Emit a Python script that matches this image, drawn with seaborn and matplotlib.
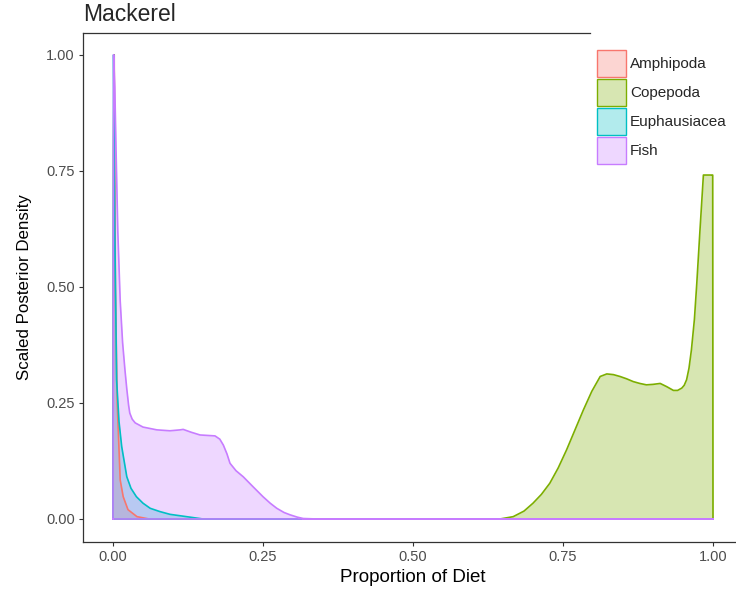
import numpy as np
import pandas as pd
import seaborn as sns
import matplotlib.pyplot as plt
from matplotlib.patches import Patch
from matplotlib.colors import to_rgba

# Scaled posterior densities (proportion of diet vs density)
species = ['Amphipoda', 'Copepoda', 'Euphausiacea', 'Fish']
colors = ['#F8766D', '#7CAE00', '#00BFC4', '#C77CFF']

amph_x = [0, 0.001, 0.002, 0.004, 0.007, 0.012, 0.017, 0.025, 0.04, 0.06, 1.0]
amph_y = [0, 0.80, 1.00, 0.50, 0.25, 0.084, 0.048, 0.020, 0.005, 0, 0]

cope_x = [0, 0.645, 0.667, 0.685, 0.70, 0.714, 0.728, 0.742, 0.756, 0.770, 0.784,
          0.798, 0.812, 0.823, 0.834, 0.845, 0.856, 0.867, 0.878, 0.889, 0.900,
          0.912, 0.923, 0.934, 0.941, 0.948, 0.952, 0.956, 0.960, 0.964, 0.969,
          0.973, 0.978, 0.984, 0.998, 0.9995, 1.0]
cope_y = [0, 0, 0.005, 0.017, 0.034, 0.053, 0.077, 0.110, 0.149, 0.192, 0.235,
          0.275, 0.307, 0.3125, 0.311, 0.307, 0.302, 0.296, 0.292, 0.289, 0.290,
          0.292, 0.285, 0.277, 0.277, 0.282, 0.288, 0.300, 0.325, 0.364, 0.430,
          0.508, 0.616, 0.741, 0.741, 0.741, 0]

euph_x = [0, 0.001, 0.003, 0.006, 0.010, 0.0145, 0.023, 0.030, 0.039, 0.050,
          0.062, 0.078, 0.095, 0.128, 0.15, 1.0]
euph_y = [0, 1.00, 0.62, 0.30, 0.21, 0.156, 0.091, 0.066, 0.048, 0.034,
          0.023, 0.016, 0.010, 0.004, 0, 0]

fish_x = [0, 0.001, 0.003, 0.005, 0.008, 0.012, 0.016, 0.020, 0.023, 0.026,
          0.028, 0.032, 0.037, 0.05, 0.073, 0.095, 0.112, 0.117, 0.13, 0.145,
          0.17, 0.178, 0.184, 0.190, 0.195, 0.205, 0.217, 0.233, 0.25, 0.262,
          0.273, 0.285, 0.295, 0.307, 0.317, 0.34, 1.0]
fish_y = [0, 1.00, 0.93, 0.80, 0.62, 0.47, 0.38, 0.32, 0.28, 0.245,
          0.228, 0.215, 0.207, 0.198, 0.192, 0.190, 0.192, 0.193, 0.187, 0.181,
          0.179, 0.172, 0.159, 0.140, 0.12, 0.104, 0.091, 0.070, 0.048, 0.034,
          0.023, 0.014, 0.009, 0.004, 0.001, 0, 0]

curves = {'Amphipoda': (amph_x, amph_y), 'Copepoda': (cope_x, cope_y),
          'Euphausiacea': (euph_x, euph_y), 'Fish': (fish_x, fish_y)}

sns.set_style('white')
plt.rcParams['font.family'] = ['Liberation Sans', 'DejaVu Sans']

fig = plt.figure(figsize=(7.36, 5.91), dpi=100)
ax = fig.add_axes([83 / 736, 49 / 591, 660 / 736, 509 / 591])

for name, col in zip(species, colors):
    x, y = curves[name]
    # close the polygon along the baseline like geom_density does
    df = pd.DataFrame({'x': list(x) + [0], 'y': list(y) + [0]})
    ax.fill_between(x, y, 0, color=col, alpha=0.3, linewidth=0)
    sns.lineplot(data=df, x='x', y='y', sort=False, estimator=None,
                 color=col, linewidth=1.2, ax=ax)

ax.set_xlim(-0.05, 1.05)
ax.set_ylim(-0.0496, 1.047)
ticks = [0, 0.25, 0.5, 0.75, 1.0]
tick_labels = ['0.00', '0.25', '0.50', '0.75', '1.00']
ax.set_xticks(ticks)
ax.set_xticklabels(tick_labels)
ax.set_yticks(ticks)
ax.set_yticklabels(tick_labels)
ax.tick_params(axis='both', labelsize=10.5, labelcolor='#4D4D4D', length=3,
               width=0.8, color='#333333', direction='out', pad=3)
for side in ['left', 'bottom', 'top']:
    ax.spines[side].set_color('#333333')
    ax.spines[side].set_linewidth(0.9)
ax.spines['right'].set_visible(False)
ax.spines['top'].set_bounds(-0.05, 0.795)
ax.tick_params(left=True, bottom=True)

ax.set_xlabel('Proportion of Diet', fontsize=13.5, color='black', labelpad=3)
ax.set_ylabel('Scaled Posterior Density', fontsize=12.2, color='black', labelpad=10)
fig.text(83 / 736, 1 - 21 / 591, 'Mackerel', fontsize=16.5, ha='left', va='baseline')

handles = [Patch(facecolor=to_rgba(c, 0.3), edgecolor=c, linewidth=1.0) for c in colors]
leg = ax.legend(handles, species, loc='upper left',
                bbox_to_anchor=(590 / 736, 1 - 43 / 591), bbox_transform=fig.transFigure,
                frameon=True, fontsize=11, handlelength=1.9, handleheight=2.34,
                handletextpad=0.26, labelspacing=0.13, borderpad=0.45, borderaxespad=0)
leg.get_frame().set_facecolor('white')
leg.get_frame().set_edgecolor('white')
leg.get_frame().set_alpha(1)
leg.set_zorder(10)

fig.savefig('out.png', dpi=100)
